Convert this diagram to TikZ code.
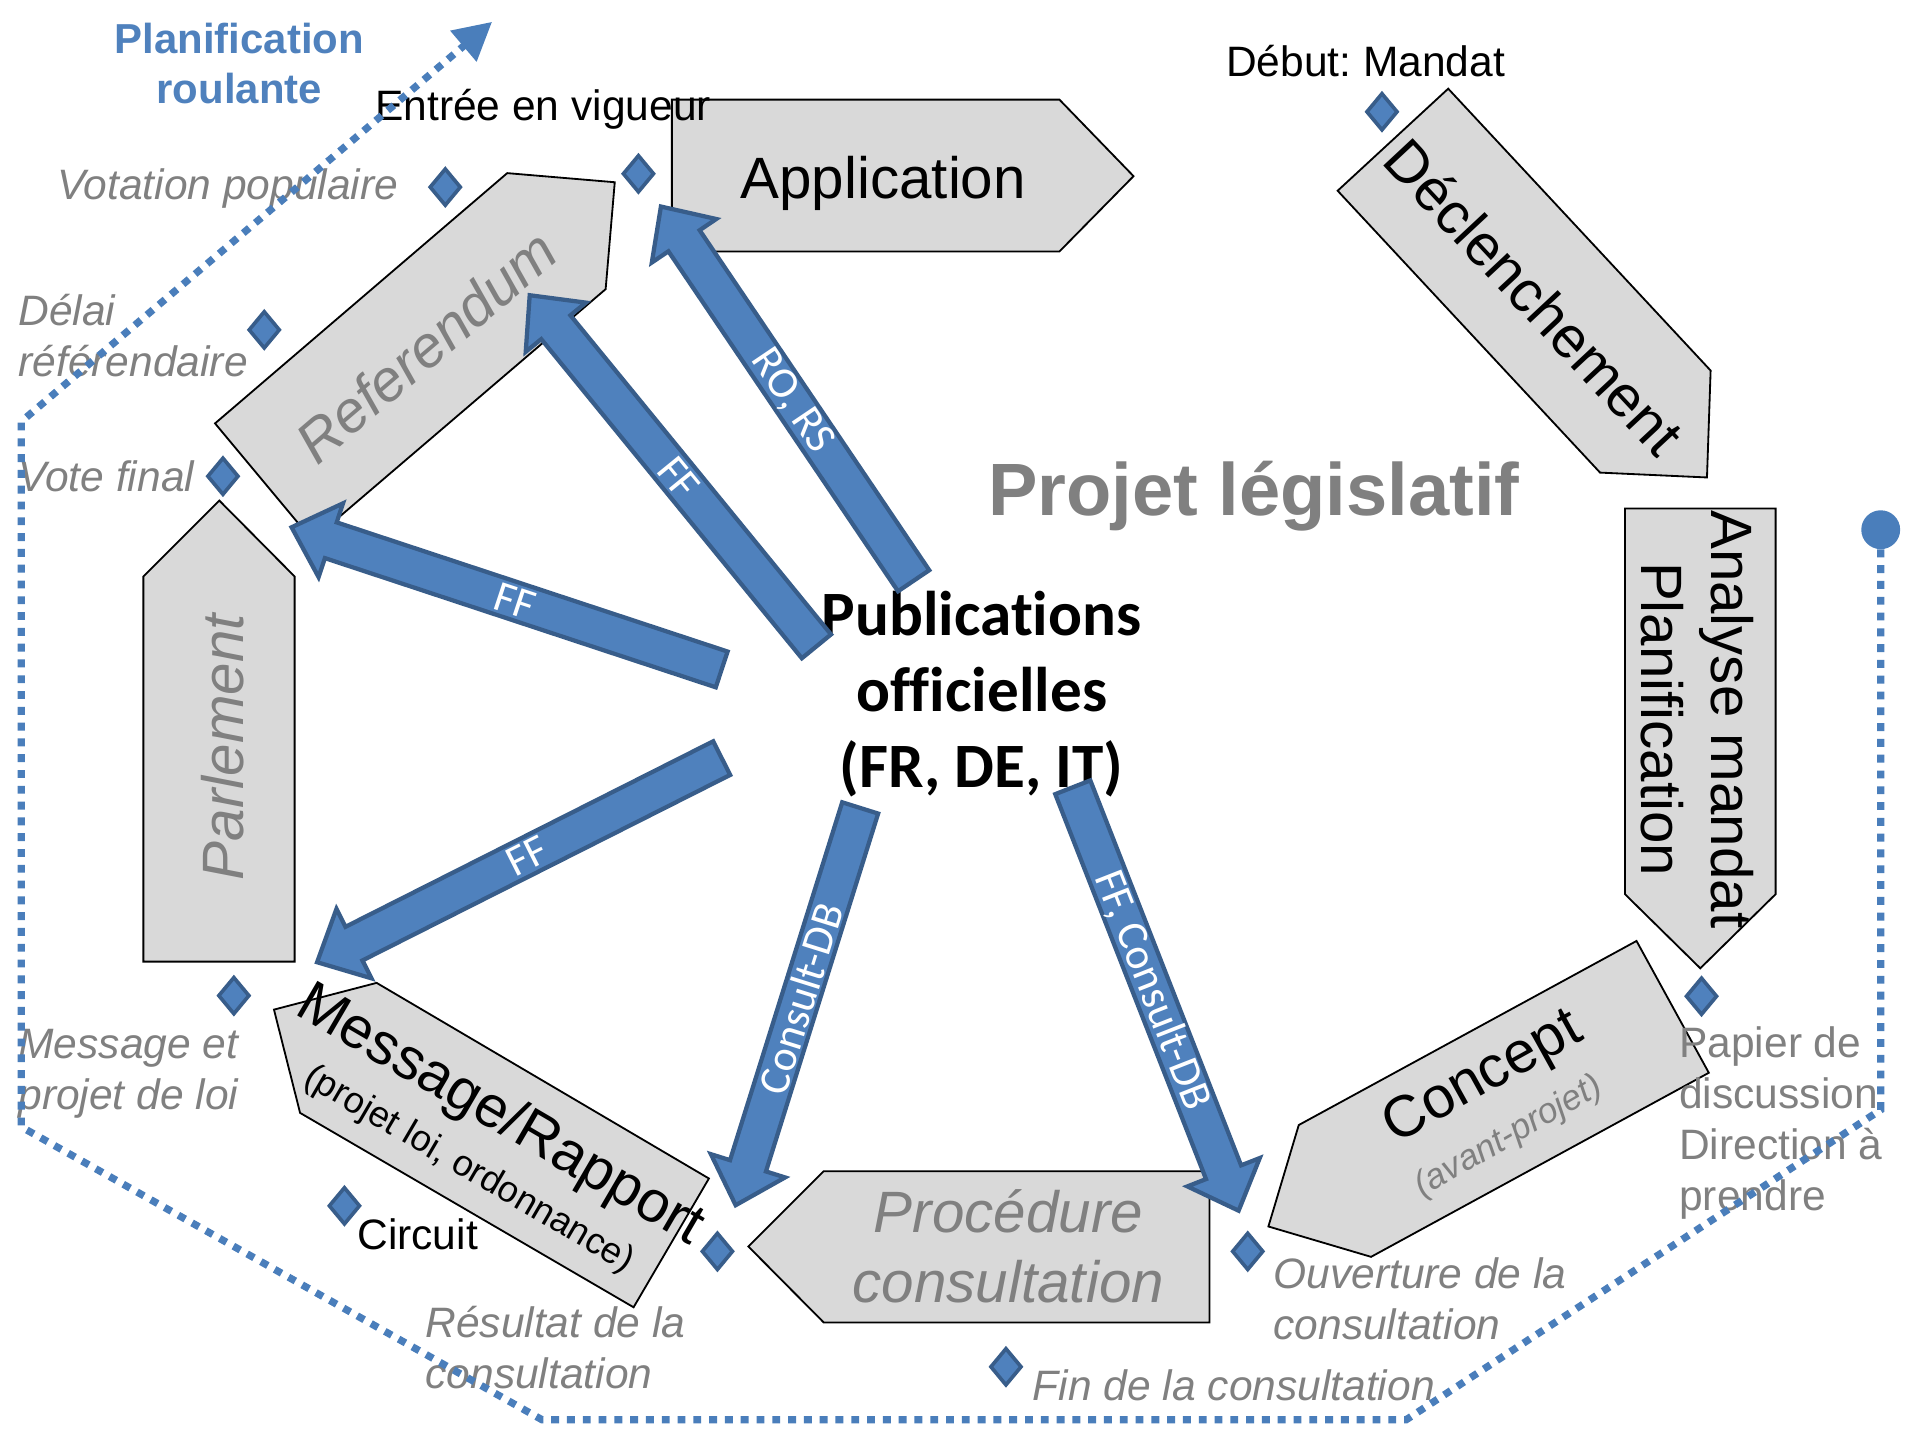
\documentclass[tikz,border=0pt]{standalone}
\usepackage{fontspec}
\setmainfont{Liberation Sans}
\newfontfamily\calibri[Ligatures=NoCommon]{Carlito}
\usetikzlibrary{calc,arrows.meta,shapes.geometric}
\frenchspacing

\definecolor{pubblue}{RGB}{79,129,189}
\definecolor{pubedge}{RGB}{56,93,138}
\definecolor{rollblue}{RGB}{74,126,187}
\definecolor{phasefill}{RGB}{217,217,217}
\definecolor{txtgray}{RGB}{128,128,128}

\newcommand\pubarrow[3]{%
    \coordinate (pa-b) at ($(#2)!34pt!(#1)$);
    \draw[pubarrow] ($(#1)!15.5pt!90:(#2)$) -- ($(pa-b)!15.5pt!-90:(#1)$)
        -- ($(pa-b)!32pt!-90:(#1)$) -- (#2) -- ($(pa-b)!32pt!90:(#1)$)
        -- ($(pa-b)!15.5pt!90:(#1)$) -- ($(#1)!15.5pt!-90:(#2)$) -- cycle;
    \path (#1) -- (#2) node[pos=0.48, sloped, arrowtext] {#3};
}

\begin{document}
\begin{tikzpicture}[x=1pt, y=-1pt,
    phasebox/.style={draw=black, fill=phasefill, line width=1.5pt, line join=miter},
    phasetxt/.style={font=\fontsize{48}{58}\selectfont, align=center, inner sep=0pt},
    phasegray/.style={phasetxt, text=txtgray, font=\fontsize{48}{58}\selectfont\itshape},
    milestone/.style={diamond, draw=pubedge, fill=pubblue, line width=3pt, minimum width=26pt, minimum height=31pt, inner sep=0pt},
    mtxt/.style={font=\fontsize{35}{42}\selectfont, align=left, inner sep=0pt},
    mgray/.style={mtxt, text=txtgray, font=\fontsize{35}{42}\selectfont\itshape},
    pubarrow/.style={draw=pubedge, fill=pubblue, line width=3.5pt, line join=miter},
    arrowtext/.style={text=white, font=\calibri\fontsize{36}{42}\selectfont, inner sep=0pt},
    rolling/.style={draw=rollblue, line width=6pt, dash pattern=on 6.5pt off 6.5pt, -{Triangle[length=31pt,width=32pt]}}]
    \useasboundingbox (0,0) rectangle (1568,1185);

    \draw[phasebox] (553,82) -- (872,82) -- (933,145) -- (872,207) -- (553,207) -- cycle;
    \draw[phasebox] (1192,73) -- (1408,305) -- (1405,393) -- (1317,389) -- (1101,157) -- cycle;
    \draw[phasebox] (1337.5,418.5) -- (1461.5,418.5) -- (1461.5,736) -- (1399.5,797) -- (1337.5,736) -- cycle;
    \draw[phasebox] (1347,774.5) -- (1406.5,883) -- (1128.5,1034.5) -- (1044,1009.5) -- (1069,926) -- cycle;
    \draw[phasebox] (995.5,964) -- (995.5,1088.5) -- (678,1088.5) -- (616,1026) -- (678,964) -- cycle;
    \draw[phasebox] (583.5,970) -- (521.5,1076) -- (247,916) -- (225.5,831) -- (310,809) -- cycle;
    \draw[phasebox] (242.5,791.5) -- (118,791.5) -- (118,474.5) -- (180.5,412) -- (242.5,474.5) -- cycle;
    \draw[phasebox] (257,444.5) -- (177,348.5) -- (417.5,142.5) -- (506,150) -- (498.5,238) -- cycle;

    \node[phasetxt] (appl) at (727,151) {Application};
    \node[phasetxt, rotate=-47] (decl) at (1263,244) {Déclenchement};
    \node[phasetxt, rotate=-90] (anal) at (1397,592) {Analyse mandat\\Planification};
    \node[phasetxt, rotate=29] (conc) at (1221,888) {Concept};
    \node[phasegray, rotate=30, font=\fontsize{29}{34}\selectfont\itshape] (conc-sub) at (1242,936) {(avant-projet)};
    \node[phasegray] (proc) at (830,1026) {Procédure\\consultation};
    \node[phasetxt, rotate=-30.3] (mess) at (411,919) {Message/Rapport};
    \node[phasetxt, rotate=-30.3, font=\fontsize{30}{36}\selectfont] (mess-sub) at (386,963) {(projet loi, ordonnance)};
    \node[phasegray, rotate=90] (parl) at (183,615) {Parlement};
    \node[phasegray, rotate=40.5] (refe) at (351,285) {Referendum};

    \node[font=\calibri\bfseries\fontsize{52}{62.5}\selectfont, align=center, inner sep=0pt] (pub) at (808,571) {Publications\\officielles\\(FR, DE, IT)};
    \node[font=\bfseries\fontsize{61}{73}\selectfont, text=txtgray, inner sep=0pt] (title) at (1032,408) {Projet législatif};

    \coordinate (rors-s) at (752,478);
    \coordinate (rors-e) at (544,170);
    \coordinate (refe-s) at (672,532);
    \coordinate (refe-e) at (436,243);
    \coordinate (parl-s) at (594,551);
    \coordinate (parl-e) at (240,434);
    \coordinate (mess-s) at (594,624);
    \coordinate (mess-e) at (261,792);
    \coordinate (cons-s) at (708,665);
    \coordinate (cons-e) at (605.5,992);
    \coordinate (ffc-s) at (883,648);
    \coordinate (ffc-e) at (1019.5,996.5);

    \pubarrow{rors-s}{rors-e}{RO, RS}
    \pubarrow{refe-s}{refe-e}{FF}
    \pubarrow{parl-s}{parl-e}{FF}
    \pubarrow{mess-s}{mess-e}{FF}
    \pubarrow{cons-s}{cons-e}{Consult-DB}
    \pubarrow{ffc-s}{ffc-e}{FF, Consult-DB}

    \node[milestone] (m-debut) at (1137.5,92) {};
    \node[milestone] (m-entree) at (525.5,143) {};
    \node[milestone] (m-votation) at (366.5,154) {};
    \node[milestone] (m-delai) at (217.5,271.5) {};
    \node[milestone] (m-vote) at (183.5,392) {};
    \node[milestone] (m-message) at (192.5,819.5) {};
    \node[milestone] (m-circuit) at (283.5,992.5) {};
    \node[milestone] (m-resultat) at (590.5,1030) {};
    \node[milestone] (m-fin) at (828,1125) {};
    \node[milestone] (m-ouverture) at (1027,1030) {};
    \node[milestone] (m-papier) at (1400.5,820) {};

    \node[mtxt] (t-debut) at (1124,50) {Début: Mandat};
    \node[mtxt] (t-entree) at (447,90) {Entrée en vigueur};
    \node[mgray, anchor=east] (t-votation) at (328,155) {Votation populaire};
    \node[mgray, anchor=west] (t-delai) at (15,276) {Délai\\référendaire};
    \node[mgray, anchor=west] (t-vote) at (15,392) {Vote final};
    \node[mgray, anchor=west] (t-message) at (15,884) {Message et\\projet de loi};
    \node[mtxt, anchor=west] (t-circuit) at (294,1016) {Circuit};
    \node[mgray, anchor=west] (t-resultat) at (350,1109) {Résultat de la\\consultation};
    \node[mgray, anchor=west] (t-fin) at (850,1140) {Fin de la consultation};
    \node[mgray, anchor=west] (t-ouverture) at (1048,1069) {Ouverture de la\\consultation};
    \node[mtxt, text=txtgray, anchor=west] (t-papier) at (1382,924) {Papier de\\discussion\\Direction à\\prendre};

    \node[font=\bfseries\fontsize{34.5}{41}\selectfont, text=pubblue, align=center, inner sep=0pt] (roll) at (197,52) {Planification\\roulante};
    \node[circle, fill=rollblue, minimum size=32pt, inner sep=0pt] (roll-start) at (1548,436) {};
    \coordinate (roll-a) at (1548,913.5);
    \coordinate (roll-b) at (1157.5,1168.5);
    \coordinate (roll-c) at (446,1168.5);
    \coordinate (roll-d) at (17.5,927.5);
    \coordinate (roll-e) at (17.5,347);
    \coordinate (roll-f) at (405,18);
    \draw[rolling] (roll-start) -- (roll-a) -- (roll-b) -- (roll-c) -- (roll-d) -- (roll-e) -- (roll-f);
\end{tikzpicture}
\end{document}
